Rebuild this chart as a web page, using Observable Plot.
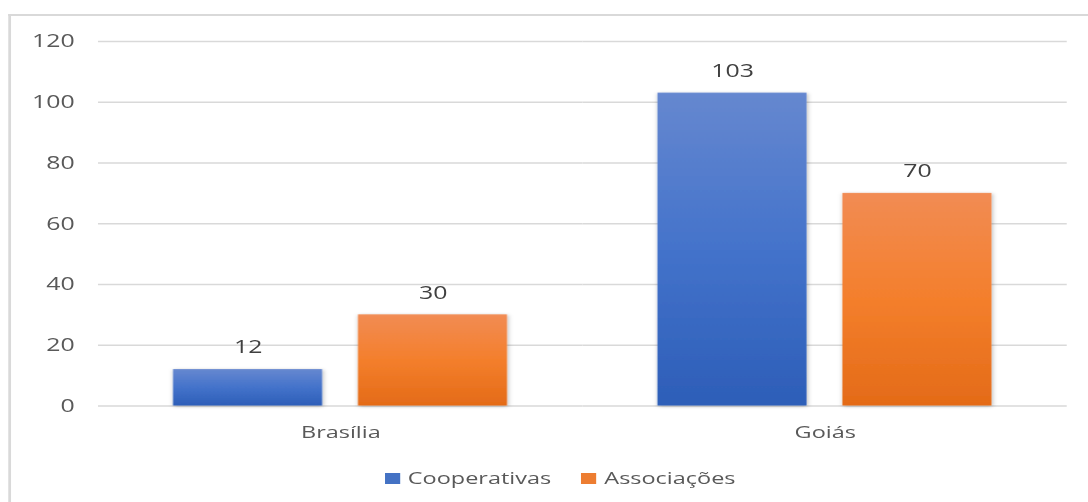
<!DOCTYPE html>
<html>
<head>
<meta charset="utf-8">
<script src="https://cdn.jsdelivr.net/npm/d3@7"></script>
<script src="https://cdn.jsdelivr.net/npm/@observablehq/plot@0.6"></script>
<style>
  html, body { margin: 0; padding: 0; background: #ffffff; overflow: hidden; }
  #stage { position: absolute; left: 0; top: 0; width: 788px; height: 502px; transform: scaleX(1.38); transform-origin: 0 0; }
  #frame { position: absolute; left: 6px; top: 14px; width: 900px; height: 600px; border-left: 2px solid #d9d9d9; border-top: 2px solid #d9d9d9; }
  #chart { position: absolute; left: 0; top: 0; }
  #legend { position: absolute; left: 279px; top: 466px; display: flex; align-items: center; font: 17px "Open Sans", sans-serif; color: #595959; white-space: nowrap; }
  #legend .sw { width: 10.5px; height: 10.5px; margin-top: 2px; margin-right: 6px; }
  #chart svg g[aria-label="y-axis"] text, #chart svg g[aria-label="y-axis tick label"] text { font-size: 18px; }
</style>
</head>
<body>
<div id="stage">
  <div id="frame"></div>
  <div id="chart"></div>
  <div id="legend"></div>
</div>
<script>
// Regions, series and their counts
const regions = ["Brasília", "Goiás"];
const seriesNames = ["Cooperativas", "Associações"];
const cooperativas = [12, 103];
const associacoes = [30, 70];
const yTicks = [0, 20, 40, 60, 80, 100, 120];

const seriesColors = ["#4472C4", "#ED7D31"];
const gradientIds = ["grad-coop", "grad-assoc"];
const gradientStops = [
  ["#6688D0", "#4473CB", "#2D5EB8"],
  ["#F28C54", "#F47F2C", "#E46B18"]
];

const rows = regions.flatMap((region, i) => [
  {region, series: seriesNames[0], value: cooperativas[i]},
  {region, series: seriesNames[1], value: associacoes[i]}
]);

const fillFor = d => `url(#${gradientIds[seriesNames.indexOf(d.series)]})`;

const chart = Plot.plot({
  width: 788,
  height: 455,
  marginTop: 41,
  marginBottom: 49.5,
  marginLeft: 69.6,
  marginRight: 14.5,
  style: {fontFamily: "'Open Sans', sans-serif", fontSize: "17px", color: "#595959", background: "none", overflow: "visible"},
  facet: {data: rows, x: "region"},
  fx: {domain: regions, padding: 0, tickSize: 0, tickPadding: 20, label: null},
  x: {domain: seriesNames, paddingInner: 0.1935, paddingOuter: 0.403, axis: null},
  y: {domain: [0, 120], ticks: yTicks, tickSize: 0, tickPadding: 17.4, label: null},
  color: {type: "identity"},
  marks: [
    Plot.ruleY(yTicks, {stroke: "#d9d9d9", strokeWidth: 1.3}),
    Plot.barY(rows, {x: "series", y: "value", fill: fillFor}),
    Plot.text(rows, {x: "series", y: "value", text: d => String(d.value), dy: -22, fill: "#404040", fontSize: 18})
  ]
});

// Gradient fills and a soft shadow for the bars
const svg = d3.select(chart.tagName.toLowerCase() === "svg" ? chart : chart.querySelector("svg"));
const defs = svg.insert("defs", ":first-child");
gradientIds.forEach((id, i) => {
  const g = defs.append("linearGradient").attr("id", id).attr("x1", 0).attr("y1", 0).attr("x2", 0).attr("y2", 1);
  gradientStops[i].forEach((c, j) => g.append("stop").attr("offset", `${j * 50}%`).attr("stop-color", c));
});
const shadow = defs.append("filter").attr("id", "bar-shadow").attr("x", "-20%").attr("y", "-20%").attr("width", "140%").attr("height", "140%");
shadow.append("feDropShadow").attr("dx", 0.6).attr("dy", 0.8).attr("stdDeviation", 1.8).attr("flood-color", "#000").attr("flood-opacity", 0.3);
svg.selectAll("g[aria-label='bar']").attr("filter", "url(#bar-shadow)");

// Y tick labels are set a little larger than the category labels
svg.selectAll("g[aria-label^='y-axis'] text").style("font-size", "18px");

document.getElementById("chart").appendChild(chart);

// Legend below the plot
const legend = d3.select("#legend");
seriesNames.forEach((name, i) => {
  legend.append("span").attr("class", "sw").style("background", seriesColors[i]).style("margin-left", i ? "22px" : "0px");
  legend.append("span").text(name);
});
</script>
</body>
</html>
